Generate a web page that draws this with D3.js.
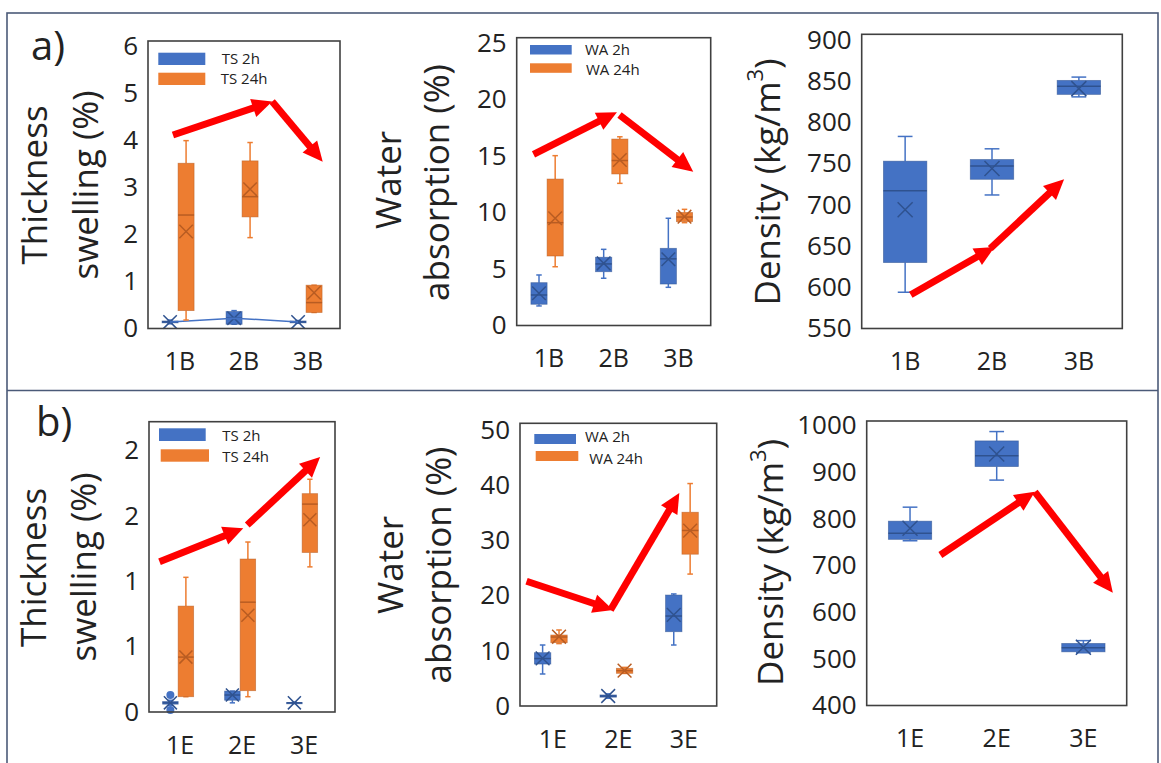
<!DOCTYPE html>
<html><head><meta charset="utf-8">
<script src="https://cdn.jsdelivr.net/npm/d3@7"></script>
<style>
body{margin:0;background:#fff}
svg{display:block}
text{font-family:"Open Sans","Noto Sans",sans-serif;fill:#222}
</style>
</head><body>
<svg id="chart" width="1161" height="763"></svg>
<script>
// ---------- DATA ----------
const catsA = ["1B", "2B", "3B"];
const catsB = ["1E", "2E", "3E"];
// each entry: [min, q1, median, q3, max, mean]
const tsA2h  = [[0.10,0.12,0.14,0.16,0.18,0.14],[0.09,0.09,0.22,0.36,0.38,0.22],[0.11,0.12,0.14,0.16,0.17,0.14]];
const tsA24h = [[0.18,0.38,2.41,3.51,3.99,2.06],[1.93,2.37,2.80,3.56,3.95,2.96],[0.34,0.34,0.55,0.92,0.92,0.76]];
const waA2h  = [[1.73,1.88,2.70,3.79,4.47,2.85],[4.18,4.76,5.45,6.04,6.74,5.50],[3.38,3.67,5.90,6.83,9.49,5.86]];
const waA24h = [[5.20,6.15,9.10,12.96,15.03,9.49],[12.58,13.41,14.60,16.50,16.70,14.65],[9.10,9.19,9.60,10.00,10.28,9.63]];
const denA   = [[594,630,717,753,783,694],[712,731,747,755,768,744],[831,834,844,851,855,841]];

const tsB2h  = [[0.05,0.06,0.07,0.08,0.09,0.07],[0.07,0.09,0.13,0.16,0.16,0.13],[0.065,0.068,0.07,0.072,0.075,0.07]];
const tsB2hOutliers = [[0.13,0.015],[],[]];
const tsB24h = [[0.117,0.117,0.42,0.81,1.03,0.42],[0.117,0.163,0.84,1.17,1.30,0.74],[1.11,1.22,1.59,1.67,1.78,1.47]];
const waB2h  = [[5.8,7.6,8.6,9.66,11.05,8.64],[1.4,1.6,1.8,2.0,2.2,1.81],[11.05,13.46,16.3,20.1,20.3,16.5]];
const waB24h = [[11.3,11.47,12.5,12.86,13.77,12.55],[5.9,5.92,6.4,6.83,7.0,6.4],[23.9,27.5,31.8,35.1,40.3,31.76]];
const denB   = [[753,756,769,795,825,780],[883,912,935,967,987,939],[513,515,524,533,539,525]];

// y ticks and labels
const ticksTsA = [0,1,2,3,4,5,6];        const labelsTsA = ["0","1","2","3","4","5","6"];
const ticksWaA = [0,5,10,15,20,25];      const labelsWaA = ["0","5","10","15","20","25"];
const ticksDenA = [550,600,650,700,750,800,850,900]; const labelsDenA = ["550","600","650","700","750","800","850","900"];
const ticksTsB = [0,0.5,1,1.5,2];        const labelsTsB = ["0","1","1","2","2"];
const ticksWaB = [0,10,20,30,40,50];     const labelsWaB = ["0","10","20","30","40","50"];
const ticksDenB = [400,500,600,700,800,900,1000]; const labelsDenB = ["400","500","600","700","800","900","1000"];

// trend arrows: [categoryIndex, value] start -> end
const arrowsTsA  = [[[-0.11,4.11],[1.44,4.82]], [[1.44,4.82],[2.23,3.54]]];
const arrowsWaA  = [[[-0.24,15.15],[1.05,18.87]], [[1.09,18.63],[2.23,13.61]]];
const arrowsDenA = [[[0.065,591],[1.03,649]], [[0.98,647],[1.83,731]]];
const arrowsTsB  = [[[-0.33,1.15],[1.02,1.405]], [[1.085,1.43],[2.26,1.95]]];
const arrowsWaB  = [[[-0.40,22.6],[0.92,17.4]], [[0.88,17.4],[1.93,38.6]]];
const arrowsDenB = [[[0.35,722.5],[1.44,858]], [[1.44,858],[2.34,641.7]]];

// ---------- STYLE ----------
const BLUE = "#4472C4", BLUE_D = "#2F528F";
const ORANGE = "#ED7D31", ORANGE_D = "#B85C22";
const RED = "#FF0000";

const svg = d3.select("#chart");

// outer frame
svg.append("rect").attr("x",7).attr("y",13).attr("width",1151).attr("height",765)
  .attr("fill","none").attr("stroke","#4B5A78").attr("stroke-width",1.6);
svg.append("line").attr("x1",7).attr("x2",1158).attr("y1",390.5).attr("y2",390.5)
  .attr("stroke","#4B5A78").attr("stroke-width",1.6);

svg.append("text").attr("x",31).attr("y",60).attr("font-size",40).text("a)");
svg.append("text").attr("x",36).attr("y",436).attr("font-size",40).text("b)");

function drawArrow(g, x1, y1, x2, y2) {
  const dx = x2 - x1, dy = y2 - y1, L = Math.hypot(dx, dy);
  const ux = dx / L, uy = dy / L, headL = 20, headW = 9.5;
  const bx = x2 - ux * headL, by = y2 - uy * headL;
  g.append("line").attr("x1",x1).attr("y1",y1).attr("x2",bx + ux*2).attr("y2",by + uy*2)
    .attr("stroke",RED).attr("stroke-width",7);
  g.append("polygon").attr("fill",RED)
    .attr("points",[[x2,y2],[bx - uy*headW, by + ux*headW],[bx + uy*headW, by - ux*headW]].map(p=>p.join(",")).join(" "));
}

function drawPanel(p) {
  const g = svg.append("g");
  const x = d3.scaleBand().domain(p.cats).range([p.left, p.right]);
  const bw = x.bandwidth();
  const y = d3.scaleLinear().domain(p.domain).range([p.bottom, p.tickTop]);
  const sub = d3.scaleBand().domain(p.series.map(s => s.name))
    .range(p.series.length > 1 ? [bw*0.22, bw*0.72] : [bw*0.25, bw*0.75]);
  const boxW = sub.bandwidth();
  const idx = d3.scaleLinear().domain([0, p.cats.length - 1])
    .range([x(p.cats[0]) + bw/2, x(p.cats[p.cats.length-1]) + bw/2]);

  // y axis labels
  const ya = g.append("g").attr("transform",`translate(${p.left},0)`)
    .call(d3.axisLeft(y).tickValues(p.ticks).tickFormat((d,i) => p.tickLabels[i]).tickSize(0).tickPadding(10));
  ya.select(".domain").remove();
  ya.attr("font-family",null).attr("font-size",null);
  ya.selectAll("text").attr("font-size",26).attr("fill","#222");

  // x axis labels
  const xa = g.append("g").attr("transform",`translate(0,${p.bottom})`)
    .call(d3.axisBottom(x).tickSize(0).tickPadding(24));
  xa.select(".domain").remove();
  xa.attr("font-family",null).attr("font-size",null);
  xa.selectAll("text").attr("font-size",25).attr("fill","#222");

  // boxes
  p.series.forEach(s => {
    const cx = i => x(p.cats[i]) + sub(s.name) + boxW/2;
    const capW = boxW * 0.34, xs = Math.min(boxW * 0.42, 7.5);
    s.data.forEach((d, i) => {
      const [mn, q1, md, q3, mx, mean] = d;
      const c = cx(i);
      const sg = g.append("g");
      sg.append("line").attr("x1",c).attr("x2",c).attr("y1",y(mx)).attr("y2",y(q3)).attr("stroke",s.color).attr("stroke-width",1.5);
      sg.append("line").attr("x1",c).attr("x2",c).attr("y1",y(q1)).attr("y2",y(mn)).attr("stroke",s.color).attr("stroke-width",1.5);
      [mn, mx].forEach(v => sg.append("line").attr("x1",c-capW/2).attr("x2",c+capW/2).attr("y1",y(v)).attr("y2",y(v))
        .attr("stroke",s.color).attr("stroke-width",1.5));
      sg.append("rect").attr("x",c-boxW/2).attr("width",boxW).attr("y",y(q3)).attr("height",Math.max(y(q1)-y(q3),1.2))
        .attr("fill",s.color).attr("stroke",s.dark).attr("stroke-width",0.8).attr("stroke-opacity",0.6);
      sg.append("line").attr("x1",c-boxW/2).attr("x2",c+boxW/2).attr("y1",y(md)).attr("y2",y(md))
        .attr("stroke",s.dark).attr("stroke-width",1.5);
      const my = y(mean);
      sg.append("path").attr("d",`M${c-xs},${my-xs}L${c+xs},${my+xs}M${c-xs},${my+xs}L${c+xs},${my-xs}`)
        .attr("stroke",s.dark).attr("stroke-width",1.5).attr("fill","none");
      if (s.outliers) s.outliers[i].forEach(v => sg.append("circle").attr("cx",c).attr("cy",y(v)).attr("r",4).attr("fill",s.color));
    });
    if (s.meanLine) {
      g.append("path").datum(s.data)
        .attr("d", d3.line().x((d,i) => cx(i)).y(d => y(d[5])))
        .attr("fill","none").attr("stroke",s.color).attr("stroke-width",1.5);
    }
  });

  // frame
  g.append("rect").attr("x",p.left).attr("y",p.top).attr("width",p.right-p.left).attr("height",p.bottom-p.top)
    .attr("fill","none").attr("stroke","#404040").attr("stroke-width",1.6);

  // legend
  if (p.legend) {
    p.legend.forEach((l, k) => {
      const s = p.series[k];
      g.append("rect").attr("x",p.left+l.sx).attr("y",p.top+l.sy).attr("width",l.sw).attr("height",l.sh).attr("fill",s.color);
      g.append("text").attr("x",p.left+l.tx).attr("y",p.top+l.ty).attr("font-size",15).text(s.name);
    });
  }

  // arrows
  p.arrows.forEach(a => drawArrow(g, idx(a[0][0]), y(a[0][1]), idx(a[1][0]), y(a[1][1])));

  // titles
  p.titles.forEach(t => {
    const tx = g.append("text").attr("transform",`translate(${t.x},${t.y}) rotate(-90)`)
      .attr("text-anchor","middle").attr("dominant-baseline","central").attr("font-size",35);
    tx.append("tspan").text(t.text);
    if (t.sup) {
      tx.append("tspan").attr("font-size",22).attr("dy",-12).text(t.sup);
      tx.append("tspan").attr("dy",12).text(t.after);
    }
  });
}

const panels = [
  { cats: catsA, domain:[0,6], ticks: ticksTsA, tickLabels: labelsTsA,
    left:148, right:340, top:41, bottom:328.5, tickTop:46,
    series:[{name:"TS 2h", data:tsA2h, color:BLUE, dark:BLUE_D, meanLine:true},
            {name:"TS 24h", data:tsA24h, color:ORANGE, dark:ORANGE_D}],
    legend:[{sx:10.3,sy:11.7,sw:47,sh:12.3,tx:73.7,ty:22.5},{sx:10.3,sy:31.7,sw:47,sh:12.3,tx:72.7,ty:43}],
    arrows: arrowsTsA,
    titles:[{x:33,y:185,text:"Thickness"},{x:84,y:185,text:"swelling (%)"}] },
  { cats: catsA, domain:[0,25], ticks: ticksWaA, tickLabels: labelsWaA,
    left:516.7, right:710.7, top:37.7, bottom:325.5, tickTop:43,
    series:[{name:"WA 2h", data:waA2h, color:BLUE, dark:BLUE_D},
            {name:"WA 24h", data:waA24h, color:ORANGE, dark:ORANGE_D}],
    legend:[{sx:13.3,sy:7.3,sw:41.7,sh:9.5,tx:68.3,ty:17.5},{sx:13.3,sy:25.6,sw:41.7,sh:9.5,tx:69.3,ty:37}],
    arrows: arrowsWaA,
    titles:[{x:387,y:180,text:"Water"},{x:435,y:182.5,text:"absorption (%)"}] },
  { cats: catsA, domain:[550,900], ticks: ticksDenA, tickLabels: labelsDenA,
    left:861.7, right:1122.3, top:34.3, bottom:328.5, tickTop:40,
    series:[{name:"Density", data:denA, color:BLUE, dark:BLUE_D}],
    arrows: arrowsDenA,
    titles:[{x:766,y:182,text:"Density (kg/m", sup:"3", after:")"}] },
  { cats: catsB, domain:[0,2], ticks: ticksTsB, tickLabels: labelsTsB,
    left:149, right:335, top:421.7, bottom:712, tickTop:450.5,
    series:[{name:"TS 2h", data:tsB2h, color:BLUE, dark:BLUE_D, outliers:tsB2hOutliers},
            {name:"TS 24h", data:tsB24h, color:ORANGE, dark:ORANGE_D}],
    legend:[{sx:10,sy:6.6,sw:46.7,sh:12.7,tx:73.3,ty:19.5},{sx:11.7,sy:27.6,sw:48.3,sh:12.4,tx:73.3,ty:40.5}],
    arrows: arrowsTsB,
    titles:[{x:32,y:567.5,text:"Thickness"},{x:82,y:567,text:"swelling (%)"}] },
  { cats: catsB, domain:[0,50], ticks: ticksWaB, tickLabels: labelsWaB,
    left:520, right:716.7, top:423.3, bottom:706, tickTop:430,
    series:[{name:"WA 2h", data:waB2h, color:BLUE, dark:BLUE_D},
            {name:"WA 24h", data:waB24h, color:ORANGE, dark:ORANGE_D}],
    legend:[{sx:14.3,sy:10.7,sw:41.7,sh:10,tx:65,ty:19},{sx:15.7,sy:27.7,sw:42.6,sh:10,tx:69.3,ty:40.5}],
    arrows: arrowsWaB,
    titles:[{x:389,y:565,text:"Water"},{x:437,y:565,text:"absorption (%)"}] },
  { cats: catsB, domain:[400,1000], ticks: ticksDenB, tickLabels: labelsDenB,
    left:866.7, right:1126.7, top:421, bottom:705.5, tickTop:425.5,
    series:[{name:"Density", data:denB, color:BLUE, dark:BLUE_D}],
    arrows: arrowsDenB,
    titles:[{x:769,y:562.5,text:"Density (kg/m", sup:"3", after:")"}] }
];
panels.forEach(drawPanel);
</script>
</body></html>
